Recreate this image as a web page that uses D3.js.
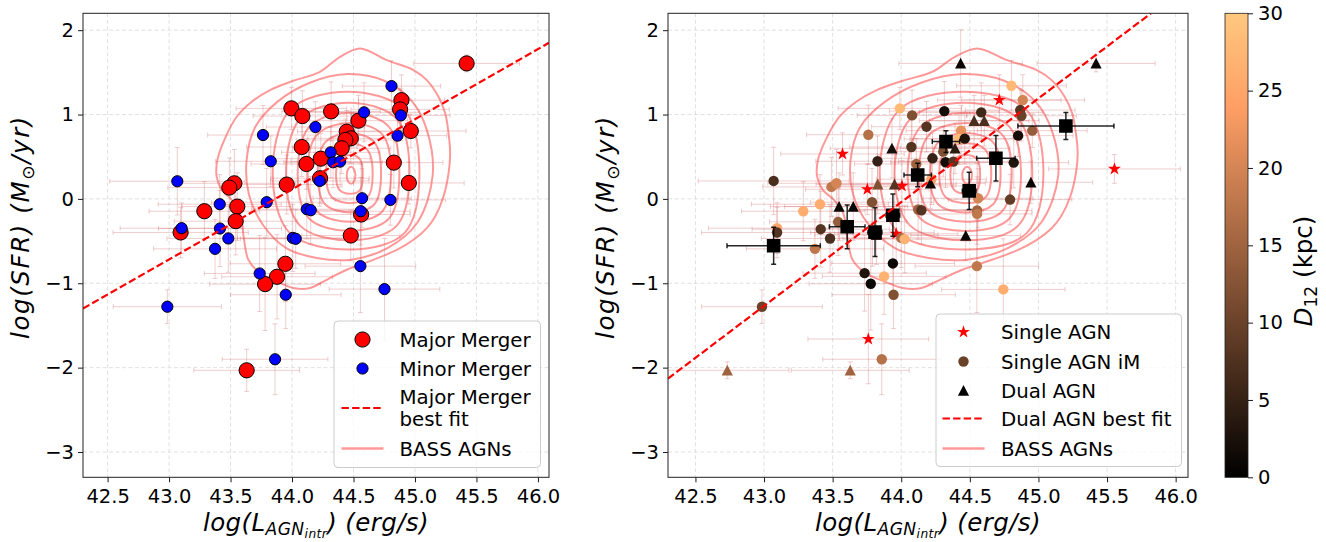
<!DOCTYPE html>
<html>
<head>
<meta charset="utf-8">
<script src="https://cdn.jsdelivr.net/npm/d3@7"></script>
<style>
  body { margin: 0; background: #fff; }
  svg { display: block; font-family: 'DejaVu Sans', sans-serif; }
</style>
</head>
<body>
<svg id="chart" width="1326" height="542"></svg>
<script>
// ---------------- data ----------------
var xTickVals = [42.5, 43.0, 43.5, 44.0, 44.5, 45.0, 45.5, 46.0]
var yTickVals = [-3, -2, -1, 0, 1, 2]
var cbTickVals = [0, 5, 10, 15, 20, 25, 30]

// left panel: major mergers
var majorX = [45.42, 43.995, 44.084, 44.318, 44.89, 44.879, 44.966, 44.54, 44.445, 44.478, 44.434, 44.404, 44.079, 44.234, 44.117, 44.228, 44.828, 44.95, 43.957, 43.531, 43.49, 43.555, 43.287, 43.542, 43.094, 44.562, 44.478, 43.946, 43.878, 43.781, 43.631]
var majorY = [1.606, 1.073, 0.982, 1.037, 1.17, 1.061, 0.805, 0.927, 0.797, 0.718, 0.698, 0.6, 0.615, 0.477, 0.414, 0.245, 0.43, 0.189, 0.17, 0.185, 0.134, -0.091, -0.146, -0.264, -0.398, -0.185, -0.434, -0.769, -0.923, -1.01, -2.032]
var majorXErr = [0.43, 0.45, 0.4, 0.4, 0.35, 0.4, 0.45, 0.4, 0.4, 0.35, 0.4, 0.4, 0.45, 0.4, 0.45, 0.4, 0.4, 0.45, 0.45, 0.5, 0.5, 0.45, 0.45, 0.5, 0.55, 0.4, 0.4, 0.45, 0.45, 0.45, 0.43]
var majorYErr = [0.1, 0.25, 0.3, 0.35, 0.3, 0.25, 0.2, 0.3, 0.25, 0.3, 0.25, 0.3, 0.35, 0.3, 0.3, 0.3, 0.3, 0.25, 0.35, 0.4, 0.35, 0.4, 0.35, 0.4, 0.3, 0.6, 0.3, 0.45, 0.5, 0.55, 0.25]

// left panel: minor mergers
var minorX = [44.809, 44.586, 44.885, 44.19, 43.764, 44.858, 44.315, 43.827, 44.334, 44.391, 44.225, 43.067, 44.57, 44.8, 43.794, 43.412, 44.559, 44.12, 44.152, 43.102, 43.414, 43.482, 44.006, 44.03, 43.374, 44.556, 43.737, 44.752, 43.949, 42.986, 43.862]
var minorY = [1.337, 1.026, 0.99, 0.852, 0.757, 0.75, 0.552, 0.446, 0.434, 0.442, 0.213, 0.209, 0.008, -0.012, -0.039, -0.063, -0.146, -0.122, -0.134, -0.347, -0.351, -0.469, -0.462, -0.473, -0.592, -0.797, -0.884, -1.069, -1.136, -1.278, -1.901]
var minorXErr = [0.4, 0.45, 0.4, 0.4, 0.45, 0.4, 0.4, 0.45, 0.4, 0.4, 0.4, 0.55, 0.4, 0.45, 0.45, 0.5, 0.4, 0.45, 0.45, 0.5, 0.5, 0.5, 0.45, 0.45, 0.5, 0.45, 0.45, 0.45, 0.45, 0.44, 0.43]
var minorYErr = [0.3, 0.35, 0.3, 0.3, 0.35, 0.25, 0.3, 0.3, 0.3, 0.3, 0.3, 0.4, 0.35, 0.3, 0.4, 0.35, 0.4, 0.35, 0.4, 0.3, 0.45, 0.4, 0.4, 0.35, 0.35, 0.55, 0.45, 0.6, 0.4, 0.2, 0.42]

// best-fit line endpoints
var majorFit = [[42.3, -1.30], [46.09, 1.85]]
var dualFit = [[42.3, -2.13], [45.82, 2.2]]

// right panel: single AGN (stars)
var singleX = [44.715, 43.572, 43.753, 44.005, 45.554, 43.76, 43.963]
var singleY = [1.172, 0.533, 0.114, 0.154, 0.355, -1.661, -0.414]
var singleXErr = [0.45, 0.45, 0.45, 0.45, 0.48, 0.44, 0.45]
var singleYErr = [0.3, 0.25, 0.3, 0.3, 0.17, 0.53, 0.35]

// right panel: single AGN in mergers (circles), D12 in kpc
var imX = [44.803, 44.886, 44.867, 44.876, 43.99, 44.314, 44.583, 44.079, 44.184, 43.76, 44.955, 44.436, 44.421, 44.463, 44.852, 44.074, 44.306, 44.228, 44.323, 44.38, 43.827, 44.11, 44.82, 43.07, 43.491, 43.528, 44.22, 44.56, 44.793, 43.787, 43.408, 43.286, 44.123, 44.147, 44.553, 44.553, 43.54, 43.413, 43.095, 43.095, 43.481, 43.79, 44.0, 44.025, 43.371, 43.939, 43.733, 43.778, 43.875, 43.944, 44.551, 44.744, 42.985, 43.858]
var imY = [1.341, 1.172, 1.053, 0.986, 1.073, 1.041, 1.026, 0.99, 0.856, 0.761, 0.809, 0.809, 0.71, 0.714, 0.75, 0.615, 0.56, 0.481, 0.434, 0.442, 0.446, 0.414, 0.43, 0.213, 0.142, 0.185, 0.233, 0.008, -0.008, -0.039, -0.063, -0.146, -0.126, -0.134, -0.138, -0.178, -0.272, -0.359, -0.347, -0.398, -0.469, -0.398, -0.462, -0.477, -0.592, -0.765, -0.88, -1.006, -0.919, -1.136, -0.797, -1.073, -1.278, -1.901]
var imD = [28, 20, 8, 10, 28, 2, 6, 12, 8, 17, 14, 22, 28, 3, 2, 8, 12, 5, 2, 8, 5, 15, 3, 7, 18, 20, 25, 20, 9, 12, 26, 26, 15, 8, 15, 18, 14, 8, 25, 8, 7, 3, 16, 27, 18, 1, 3, 1, 27, 12, 18, 26, 10, 17]
var imXErr = [0.4, 0.45, 0.4, 0.4, 0.45, 0.4, 0.45, 0.4, 0.4, 0.45, 0.4, 0.4, 0.4, 0.4, 0.4, 0.45, 0.4, 0.4, 0.4, 0.4, 0.45, 0.45, 0.4, 0.55, 0.5, 0.5, 0.4, 0.4, 0.45, 0.45, 0.5, 0.45, 0.45, 0.45, 0.4, 0.4, 0.5, 0.5, 0.5, 0.55, 0.5, 0.45, 0.45, 0.45, 0.5, 0.45, 0.45, 0.45, 0.45, 0.45, 0.45, 0.45, 0.44, 0.43]
var imYErr = [0.3, 0.3, 0.25, 0.3, 0.25, 0.35, 0.35, 0.3, 0.3, 0.35, 0.2, 0.3, 0.3, 0.3, 0.25, 0.35, 0.3, 0.3, 0.3, 0.3, 0.3, 0.3, 0.3, 0.4, 0.35, 0.4, 0.3, 0.35, 0.3, 0.4, 0.35, 0.35, 0.35, 0.4, 0.4, 0.6, 0.4, 0.45, 0.3, 0.3, 0.4, 0.4, 0.35, 0.4, 0.35, 0.4, 0.45, 0.55, 0.45, 0.4, 0.55, 0.6, 0.2, 0.42]

// right panel: dual AGN (triangles)
var dualX = [44.433, 45.42, 44.531, 44.605, 43.932, 44.392, 43.829, 43.951, 44.213, 44.945, 43.547, 43.65, 43.819, 44.47, 42.732, 43.628]
var dualY = [1.606, 1.606, 0.927, 0.927, 0.6, 0.6, 0.174, 0.174, 0.185, 0.197, -0.091, -0.091, -0.426, -0.434, -2.032, -2.032]
var dualD = [1, 1, 7, 7, 2, 4, 12, 8, 1, 1, 1, 1, 4, 1, 15, 15]
var dualXErr = [0.45, 0.43, 0.4, 0.4, 0.45, 0.4, 0.45, 0.45, 0.4, 0.45, 0.5, 0.5, 0.45, 0.4, 0.45, 0.43]
var dualYErr = [0.4, 0.1, 0.3, 0.3, 0.35, 0.3, 0.35, 0.35, 0.3, 0.25, 0.4, 0.4, 0.35, 0.3, 0.1, 0.1]

// right panel: binned dual AGN (black squares)
var binX = [45.2, 44.326, 44.69, 44.12, 44.495, 43.939, 43.606, 43.809, 43.07]
var binY = [0.864, 0.679, 0.481, 0.284, 0.095, -0.193, -0.331, -0.394, -0.556]
var binXErr = [0.35, 0.1, 0.14, 0.1, 0.05, 0.05, 0.13, 0.05, 0.34]
var binYErr = [0.16, 0.13, 0.27, 0.14, 0.22, 0.25, 0.26, 0.29, 0.22]

// BASS AGN density contours (inner to outer), [logL, logSFR]
var bassContours = [
  [[44.515, 0.28], [44.505, 0.35], [44.48, 0.38], [44.455, 0.35], [44.445, 0.28], [44.455, 0.21], [44.48, 0.18], [44.505, 0.21]],
  [[44.575, 0.28], [44.554, 0.467], [44.48, 0.52], [44.385, 0.467], [44.358, 0.28], [44.385, 0.108], [44.48, 0.06], [44.554, 0.108]],
  [[44.656, 0.28], [44.617, 0.576], [44.48, 0.66], [44.322, 0.576], [44.277, 0.28], [44.322, 0.023], [44.48, -0.05], [44.617, 0.023]],
  [[44.724, 0.28], [44.67, 0.67], [44.48, 0.78], [44.269, 0.67], [44.209, 0.28], [44.269, -0.063], [44.48, -0.16], [44.67, -0.063]],
  [[44.805, 0.28], [44.734, 0.764], [44.48, 0.90], [44.205, 0.764], [44.127, 0.28], [44.205, -0.149], [44.48, -0.27], [44.734, -0.149]],
  [[44.873, 0.28], [44.787, 0.857], [44.47, 1.02], [44.141, 0.857], [44.046, 0.28], [44.141, -0.235], [44.48, -0.38], [44.787, -0.235]],
  [[44.955, 0.28], [44.85, 0.95], [44.46, 1.14], [44.067, 0.95], [43.951, 0.28], [44.067, -0.32], [44.48, -0.49], [44.85, -0.32]],
  [[45.036, 0.28], [44.914, 1.052], [44.45, 1.27], [43.983, 1.052], [43.843, 0.30], [43.983, -0.406], [44.48, -0.60], [44.914, -0.406]],
  [[45.144, 0.28], [45.10, 0.80], [44.98, 1.15], [44.75, 1.40], [44.45, 1.48], [44.15, 1.38], [43.88, 1.15], [43.70, 0.85], [43.63, 0.45], [43.65, 0.05], [43.76, -0.30], [43.95, -0.58], [44.20, -0.70], [44.48, -0.72], [44.78, -0.58], [45.02, -0.28]],
  [[44.554, 1.783], [44.771, 1.645], [44.988, 1.527], [45.096, 1.408], [45.191, 1.211], [45.246, 1.014], [45.273, 0.777], [45.286, 0.540], [45.273, 0.304], [45.232, 0.028], [45.164, -0.209], [45.096, -0.347], [44.988, -0.485], [44.852, -0.604], [44.662, -0.722], [44.445, -0.840], [44.282, -0.959], [44.147, -1.057], [44.011, -1.057], [43.875, -0.978], [43.740, -0.880], [43.645, -0.722], [43.610, -0.485], [43.577, -0.170], [43.509, -0.012], [43.428, 0.107], [43.387, 0.264], [43.393, 0.462], [43.455, 0.718], [43.550, 0.974], [43.672, 1.152], [43.821, 1.290], [44.011, 1.400], [44.228, 1.507], [44.391, 1.684]]
]

// ---------------- layout ----------------
var xDomain = [42.3, 46.09]
var yDomain = [-3.3, 2.2]
var plotTop = 13.3
var plotBottom = 477.3
var leftBox = {x0: 83, x1: 549}
var rightBox = {x0: 668, x1: 1188}
var cbBox = {x0: 1225, x1: 1248}
var tickFont = 19.5
var labelFont = 24.5
var legendFont = 19.8

var svg = d3.select('#chart')
var defs = svg.append('defs')

var copper = function (v) {
  var t = Math.max(0, Math.min(1, v / 30))
  return d3.rgb(255 * Math.min(1, 1.25 * t), 255 * 0.7812 * t, 255 * 0.4975 * t).toString()
}

function zip (xs, ys, xe, ye, extra) {
  return xs.map(function (x, i) {
    return {x: x, y: ys[i], xe: xe ? xe[i] : 0, ye: ye ? ye[i] : 0, d: extra ? extra[i] : null}
  })
}

function addMath (text, parts) {
  var shift = 0
  parts.forEach(function (p) {
    var target = p.dy || 0
    text.append('tspan')
      .attr('dy', target - shift)
      .attr('font-size', p.size || null)
      .attr('font-style', p.it ? 'italic' : 'normal')
      .text(p.t)
    shift = target
  })
}

function makePanel (box, id) {
  var x = d3.scaleLinear().domain(xDomain).range([box.x0, box.x1])
  var y = d3.scaleLinear().domain(yDomain).range([plotBottom, plotTop])

  defs.append('clipPath').attr('id', 'clip-' + id)
    .append('rect')
    .attr('x', box.x0).attr('y', plotTop)
    .attr('width', box.x1 - box.x0).attr('height', plotBottom - plotTop)

  var g = svg.append('g')

  // grid
  var grid = g.append('g').attr('class', 'grid')
    .attr('stroke', '#d9d9d9').attr('stroke-width', 0.8)
    .attr('stroke-dasharray', '4,2.5')
  grid.selectAll('.gx').data(xTickVals).enter().append('line')
    .attr('x1', d => x(d)).attr('x2', d => x(d))
    .attr('y1', plotTop).attr('y2', plotBottom)
  grid.selectAll('.gy').data(yTickVals).enter().append('line')
    .attr('y1', d => y(d)).attr('y2', d => y(d))
    .attr('x1', box.x0).attr('x2', box.x1)

  var plot = g.append('g').attr('clip-path', 'url(#clip-' + id + ')')

  // contours
  var ring = d3.line().x(d => x(d[0])).y(d => y(d[1])).curve(d3.curveCatmullRomClosed.alpha(0.5))
  plot.append('g').selectAll('path').data(bassContours).enter().append('path')
    .attr('d', ring)
    .attr('fill', 'none')
    .attr('stroke', '#ff0000')
    .attr('stroke-opacity', 0.4)
    .attr('stroke-width', 2)

  // axes
  var xAxis = d3.axisBottom(x).tickValues(xTickVals).tickFormat(d3.format('.1f'))
    .tickSizeInner(5).tickSizeOuter(0).tickPadding(6.5)
  var yAxis = d3.axisLeft(y).tickValues(yTickVals).tickFormat(d3.format('d'))
    .tickSizeInner(5).tickSizeOuter(0).tickPadding(4)
  var ax = g.append('g').attr('transform', 'translate(0,' + plotBottom + ')').call(xAxis)
  var ay = g.append('g').attr('transform', 'translate(' + box.x0 + ',0)').call(yAxis)
  ;[ax, ay].forEach(function (a) {
    a.select('.domain').remove()
    a.selectAll('text').attr('font-size', tickFont).attr('font-family', 'DejaVu Sans').attr('fill', '#000')
    a.selectAll('line').attr('stroke', '#000').attr('stroke-width', 0.9)
  })

  // frame
  g.append('rect')
    .attr('x', box.x0).attr('y', plotTop)
    .attr('width', box.x1 - box.x0).attr('height', plotBottom - plotTop)
    .attr('fill', 'none').attr('stroke', '#222').attr('stroke-width', 1)

  // axis labels
  var cx = (box.x0 + box.x1) / 2
  var xl = g.append('text').attr('x', cx).attr('y', 531)
    .attr('text-anchor', 'middle').attr('font-size', labelFont)
    .attr('letter-spacing', 0.4)
  addMath(xl, [
    {t: 'log(L', it: true},
    {t: 'AGN', it: true, size: labelFont * 0.7, dy: 4},
    {t: 'intr', it: true, size: labelFont * 0.5, dy: 7.2},
    {t: ')', it: true},
    {t: ' (erg/s)', it: true}
  ])
  var yl = g.append('text')
    .attr('transform', 'translate(' + (box.x0 - 54) + ',227) rotate(-90)')
    .attr('text-anchor', 'middle').attr('font-size', labelFont)
    .attr('letter-spacing', 1.6)
  addMath(yl, [
    {t: 'log(SFR) (M', it: true},
    {t: '\u2299', it: false, size: labelFont * 0.7, dy: 4.5},
    {t: '/yr)', it: true}
  ])

  return {g: g, plot: plot, x: x, y: y}
}

function errorBars (p, data, color, opacity, width, cap) {
  var eg = p.plot.append('g').attr('stroke', color).attr('stroke-opacity', opacity)
    .attr('stroke-width', width).attr('fill', 'none')
  data.forEach(function (d) {
    var px = p.x(d.x)
    var py = p.y(d.y)
    var xa = p.x(d.x - d.xe)
    var xb = p.x(d.x + d.xe)
    var ya = p.y(d.y - d.ye)
    var yb = p.y(d.y + d.ye)
    eg.append('line').attr('x1', xa).attr('x2', xb).attr('y1', py).attr('y2', py)
    eg.append('line').attr('x1', px).attr('x2', px).attr('y1', ya).attr('y2', yb)
    eg.append('line').attr('x1', xa).attr('x2', xa).attr('y1', py - cap).attr('y2', py + cap)
    eg.append('line').attr('x1', xb).attr('x2', xb).attr('y1', py - cap).attr('y2', py + cap)
    eg.append('line').attr('x1', px - cap).attr('x2', px + cap).attr('y1', ya).attr('y2', ya)
    eg.append('line').attr('x1', px - cap).attr('x2', px + cap).attr('y1', yb).attr('y2', yb)
  })
}

function fitLine (p, pts) {
  p.plot.append('line')
    .attr('x1', p.x(pts[0][0])).attr('y1', p.y(pts[0][1]))
    .attr('x2', p.x(pts[1][0])).attr('y2', p.y(pts[1][1]))
    .attr('stroke', '#ff0000').attr('stroke-width', 2.2)
    .attr('stroke-dasharray', '7.4,3.2')
}

var triPath = 'M0,-5.6L5.6,5.2L-5.6,5.2Z'
var starPath = d3.symbol().type(d3.symbolStar).size(52)()
var squarePath = 'M-6.8,-6.8H6.8V6.8H-6.8Z'

// ---------------- left panel ----------------
var L = makePanel(leftBox, 'l')
var majorData = zip(majorX, majorY, majorXErr, majorYErr)
var minorData = zip(minorX, minorY, minorXErr, minorYErr)
errorBars(L, majorData.concat(minorData), '#cd5c5c', 0.3, 1, 2.5)

L.plot.append('g').selectAll('circle').data(majorData).enter().append('circle')
  .attr('cx', d => L.x(d.x)).attr('cy', d => L.y(d.y)).attr('r', 7.6)
  .attr('fill', '#ff0000').attr('stroke', '#000').attr('stroke-width', 1)
L.plot.append('g').selectAll('circle').data(minorData).enter().append('circle')
  .attr('cx', d => L.x(d.x)).attr('cy', d => L.y(d.y)).attr('r', 5.6)
  .attr('fill', '#0000ff').attr('stroke', '#000').attr('stroke-width', 1)
fitLine(L, majorFit)

// ---------------- right panel ----------------
var R = makePanel(rightBox, 'r')
var singleData = zip(singleX, singleY, singleXErr, singleYErr)
var imData = zip(imX, imY, imXErr, imYErr, imD)
var dualData = zip(dualX, dualY, dualXErr, dualYErr, dualD)
var binData = zip(binX, binY, binXErr, binYErr)
errorBars(R, singleData.concat(imData, dualData), '#cd5c5c', 0.3, 1, 2.5)

R.plot.append('g').selectAll('path').data(singleData).enter().append('path')
  .attr('d', starPath)
  .attr('transform', d => 'translate(' + R.x(d.x) + ',' + R.y(d.y) + ')')
  .attr('fill', '#ff0000')
R.plot.append('g').selectAll('circle').data(imData).enter().append('circle')
  .attr('cx', d => R.x(d.x)).attr('cy', d => R.y(d.y)).attr('r', 5.2)
  .attr('fill', d => copper(d.d))
R.plot.append('g').selectAll('path').data(dualData).enter().append('path')
  .attr('d', triPath)
  .attr('transform', d => 'translate(' + R.x(d.x) + ',' + R.y(d.y) + ')')
  .attr('fill', d => copper(d.d))
errorBars(R, binData, '#000', 0.85, 1.5, 2.5)
R.plot.append('g').selectAll('path').data(binData).enter().append('path')
  .attr('d', squarePath)
  .attr('transform', d => 'translate(' + R.x(d.x) + ',' + R.y(d.y) + ')')
  .attr('fill', '#000')
fitLine(R, dualFit)

// ---------------- legends ----------------
function legend (box, rows, textX) {
  var g = svg.append('g')
  g.append('rect')
    .attr('x', box.x).attr('y', box.y).attr('width', box.w).attr('height', box.h)
    .attr('rx', 4).attr('fill', '#fff').attr('fill-opacity', 0.8)
    .attr('stroke', '#cccccc').attr('stroke-width', 1)
  rows.forEach(function (r) {
    var m = g.append('g').attr('transform', 'translate(' + r.mx + ',' + r.y + ')')
    if (r.kind === 'line') {
      m.append('line').attr('x1', -21).attr('x2', 21)
        .attr('stroke', r.color).attr('stroke-width', r.width)
        .attr('stroke-opacity', r.opacity || 1)
        .attr('stroke-dasharray', r.dash || null)
    } else if (r.kind === 'circle') {
      m.append('circle').attr('r', r.r).attr('fill', r.color)
        .attr('stroke', r.stroke || 'none').attr('stroke-width', 1)
    } else {
      m.append('path').attr('d', r.path).attr('fill', r.color)
    }
    var t = g.append('text').attr('x', textX).attr('font-size', legendFont).attr('fill', '#000')
    r.lines.forEach(function (line, i) {
      t.append('tspan').attr('x', textX).attr('y', r.y + 7 + (i - (r.lines.length - 1) / 2) * 21.5).text(line)
    })
  })
}

legend({x: 334, y: 321, w: 206.5, h: 146.5}, [
  {kind: 'circle', mx: 362.5, y: 339.5, r: 7.6, color: '#ff0000', stroke: '#000', lines: ['Major Merger']},
  {kind: 'circle', mx: 362.5, y: 368.5, r: 5.6, color: '#0000ff', stroke: '#000', lines: ['Minor Merger']},
  {kind: 'line', mx: 362.5, y: 408, color: '#ff0000', width: 2.2, dash: '7.4,3.2', lines: ['Major Merger', 'best fit']},
  {kind: 'line', mx: 362.5, y: 448.5, color: '#ff0000', width: 2.5, opacity: 0.4, lines: ['BASS AGNs']}
], 399.5)

legend({x: 936, y: 314, w: 245.5, h: 152.5}, [
  {kind: 'path', mx: 963.5, y: 332, path: starPath, color: '#ff0000', lines: ['Single AGN']},
  {kind: 'circle', mx: 963.5, y: 361.5, r: 5.2, color: copper(10), lines: ['Single AGN iM']},
  {kind: 'path', mx: 963.5, y: 390.5, path: triPath, color: '#000', lines: ['Dual AGN']},
  {kind: 'line', mx: 963.5, y: 418.5, color: '#ff0000', width: 2.2, dash: '7.4,3.2', lines: ['Dual AGN best fit']},
  {kind: 'line', mx: 963.5, y: 448.5, color: '#ff0000', width: 2.5, opacity: 0.4, lines: ['BASS AGNs']}
], 1001)

// ---------------- colorbar ----------------
var cbScale = d3.scaleLinear().domain([0, 30]).range([plotBottom, plotTop])
var grad = defs.append('linearGradient').attr('id', 'copper')
  .attr('x1', 0).attr('x2', 0).attr('y1', 1).attr('y2', 0)
grad.selectAll('stop').data(d3.range(0, 31, 1)).enter().append('stop')
  .attr('offset', d => d / 30)
  .attr('stop-color', d => copper(d))
svg.append('rect')
  .attr('x', cbBox.x0).attr('y', plotTop)
  .attr('width', cbBox.x1 - cbBox.x0).attr('height', plotBottom - plotTop)
  .attr('fill', 'url(#copper)').attr('stroke', '#222').attr('stroke-width', 0.8)
var cbAxis = d3.axisRight(cbScale).tickValues(cbTickVals).tickFormat(d3.format('d'))
  .tickSizeInner(5).tickSizeOuter(0).tickPadding(5)
var cba = svg.append('g').attr('transform', 'translate(' + cbBox.x1 + ',0)').call(cbAxis)
cba.select('.domain').remove()
cba.selectAll('text').attr('font-size', tickFont).attr('font-family', 'DejaVu Sans').attr('fill', '#000')
cba.selectAll('line').attr('stroke', '#000').attr('stroke-width', 0.9)

var cbl = svg.append('text')
  .attr('transform', 'translate(1312,271) rotate(-90)')
  .attr('text-anchor', 'middle').attr('font-size', labelFont)
addMath(cbl, [
  {t: 'D', it: true},
  {t: '12', it: false, size: labelFont * 0.7, dy: 4.5},
  {t: ' (kpc)', it: false}
])
</script>
</body>
</html>
